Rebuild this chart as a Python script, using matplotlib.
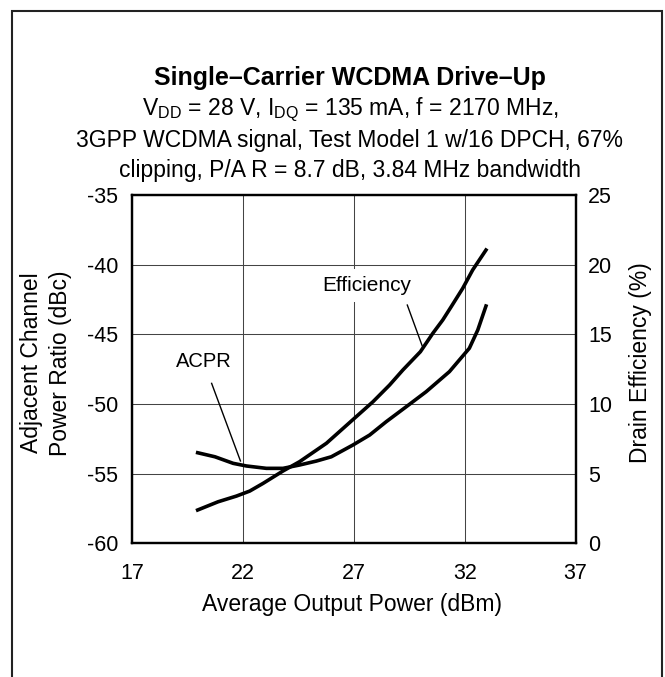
import matplotlib
matplotlib.use("Agg")
import matplotlib.pyplot as plt
from matplotlib.patches import Rectangle

plt.rcParams["font.family"] = ["Liberation Sans", "DejaVu Sans"]
plt.rcParams["mathtext.fontset"] = "custom"
plt.rcParams["mathtext.rm"] = "Liberation Sans"

# ACPR (dBc) vs average output power (dBm)
acpr_pout = [19.95, 20.73, 21.55, 22.15, 23.05, 23.8, 24.55, 25.3, 25.98,
             26.95, 27.71, 28.46, 29.36, 30.26, 31.31, 32.21, 32.59, 32.96]
acpr_dbc = [-53.5, -53.79, -54.26, -54.45, -54.62, -54.62, -54.38, -54.1, -53.79,
            -52.95, -52.23, -51.27, -50.2, -49.12, -47.68, -46.0, -44.69, -42.97]

# Drain efficiency (%) vs average output power (dBm)
eff_pout = [19.95, 20.87, 21.7, 22.3, 22.9, 23.8, 24.55, 25.76, 27.0,
            27.86, 28.61, 29.21, 30.0, 30.56, 31.01, 31.39, 31.91, 32.36, 32.96]
eff_pct = [2.39, 2.98, 3.39, 3.75, 4.3, 5.19, 5.86, 7.18, 8.94,
           10.16, 11.36, 12.44, 13.75, 15.07, 16.03, 16.98, 18.3, 19.62, 21.05]

x_ticks = [17, 22, 27, 32, 37]
acpr_ticks = [-60, -55, -50, -45, -40, -35]
eff_ticks = [0, 5, 10, 15, 20, 25]

W, H = 665, 677
fig = plt.figure(figsize=(W / 100, H / 100), dpi=100)

def fx(px):
    return px / W

def fy(py):
    return 1 - py / H

ax = fig.add_axes([fx(132.3), fy(543.3), fx(575.5) - fx(132.3), fy(195) - fy(543.3)])
ax2 = ax.twinx()

ax.set_xlim(17, 37)
ax.set_ylim(-60, -35)
ax2.set_ylim(0, 25)
ax.set_xticks(x_ticks)
ax.set_yticks(acpr_ticks)
ax2.set_yticks(eff_ticks)
ax.set_xticklabels([str(v) for v in x_ticks])
ax.set_yticklabels([str(v) for v in acpr_ticks])
ax2.set_yticklabels([str(v) for v in eff_ticks])

ax.grid(True, color="#444444", linewidth=0.75)
ax.set_axisbelow(True)
for a in (ax, ax2):
    for s in a.spines.values():
        s.set_linewidth(1.6)
    a.tick_params(length=0, labelsize=15.5)
ax.tick_params(axis="y", pad=10)
ax.tick_params(axis="x", pad=14)
ax2.tick_params(axis="y", pad=9)

ax.plot(acpr_pout, acpr_dbc, color="black", linewidth=2.6, zorder=3)
ax2.plot(eff_pout, eff_pct, color="black", linewidth=2.6, zorder=3)

# callouts
ax.text(20.23, -46.92, "ACPR", ha="center", va="center", fontsize=14.5)
ax.plot([20.58, 21.88], [-48.52, -54.09], color="black", linewidth=1.0)
ax.text(27.57, -41.5, "Efficiency", ha="center", va="center", fontsize=15,
        bbox=dict(boxstyle="square,pad=0.35", fc="white", ec="none"), zorder=2)
ax.plot([29.41, 30.08], [-42.9, -45.82], color="black", linewidth=1.0)

# titles
fig.text(fx(350), fy(78), "Single\u2013Carrier WCDMA Drive\u2013Up", ha="center", va="center",
         fontsize=18, fontweight="bold")
fig.text(fx(350), fy(110), r"V$_{\mathrm{DD}}$ = 28 V, I$_{\mathrm{DQ}}$ = 135 mA, f = 2170 MHz,",
         ha="center", va="center", fontsize=16.5)
fig.text(fx(350), fy(140), "3GPP WCDMA signal, Test Model 1 w/16 DPCH, 67%",
         ha="center", va="center", fontsize=16.5)
fig.text(fx(350), fy(170), "clipping, P/A R = 8.7 dB, 3.84 MHz bandwidth",
         ha="center", va="center", fontsize=16.5)

# axis labels
fig.text(fx(352), fy(605), "Average Output Power (dBm)", ha="center", va="center", fontsize=16.5)
fig.text(fx(32), fy(363), "Adjacent Channel", ha="center", va="center", rotation=90, fontsize=16.5)
fig.text(fx(61), fy(363), "Power Ratio (dBc)", ha="center", va="center", rotation=90, fontsize=16.5)
fig.text(fx(641), fy(363), "Drain Efficiency (%)", ha="center", va="center", rotation=90, fontsize=16.5)

# outer frame
fig.add_artist(Rectangle((fx(12), -0.05), fx(662) - fx(12), fy(11) + 0.05,
                         transform=fig.transFigure, fill=False, edgecolor="#222222", linewidth=1.5))

fig.savefig("out.png", dpi=100)
